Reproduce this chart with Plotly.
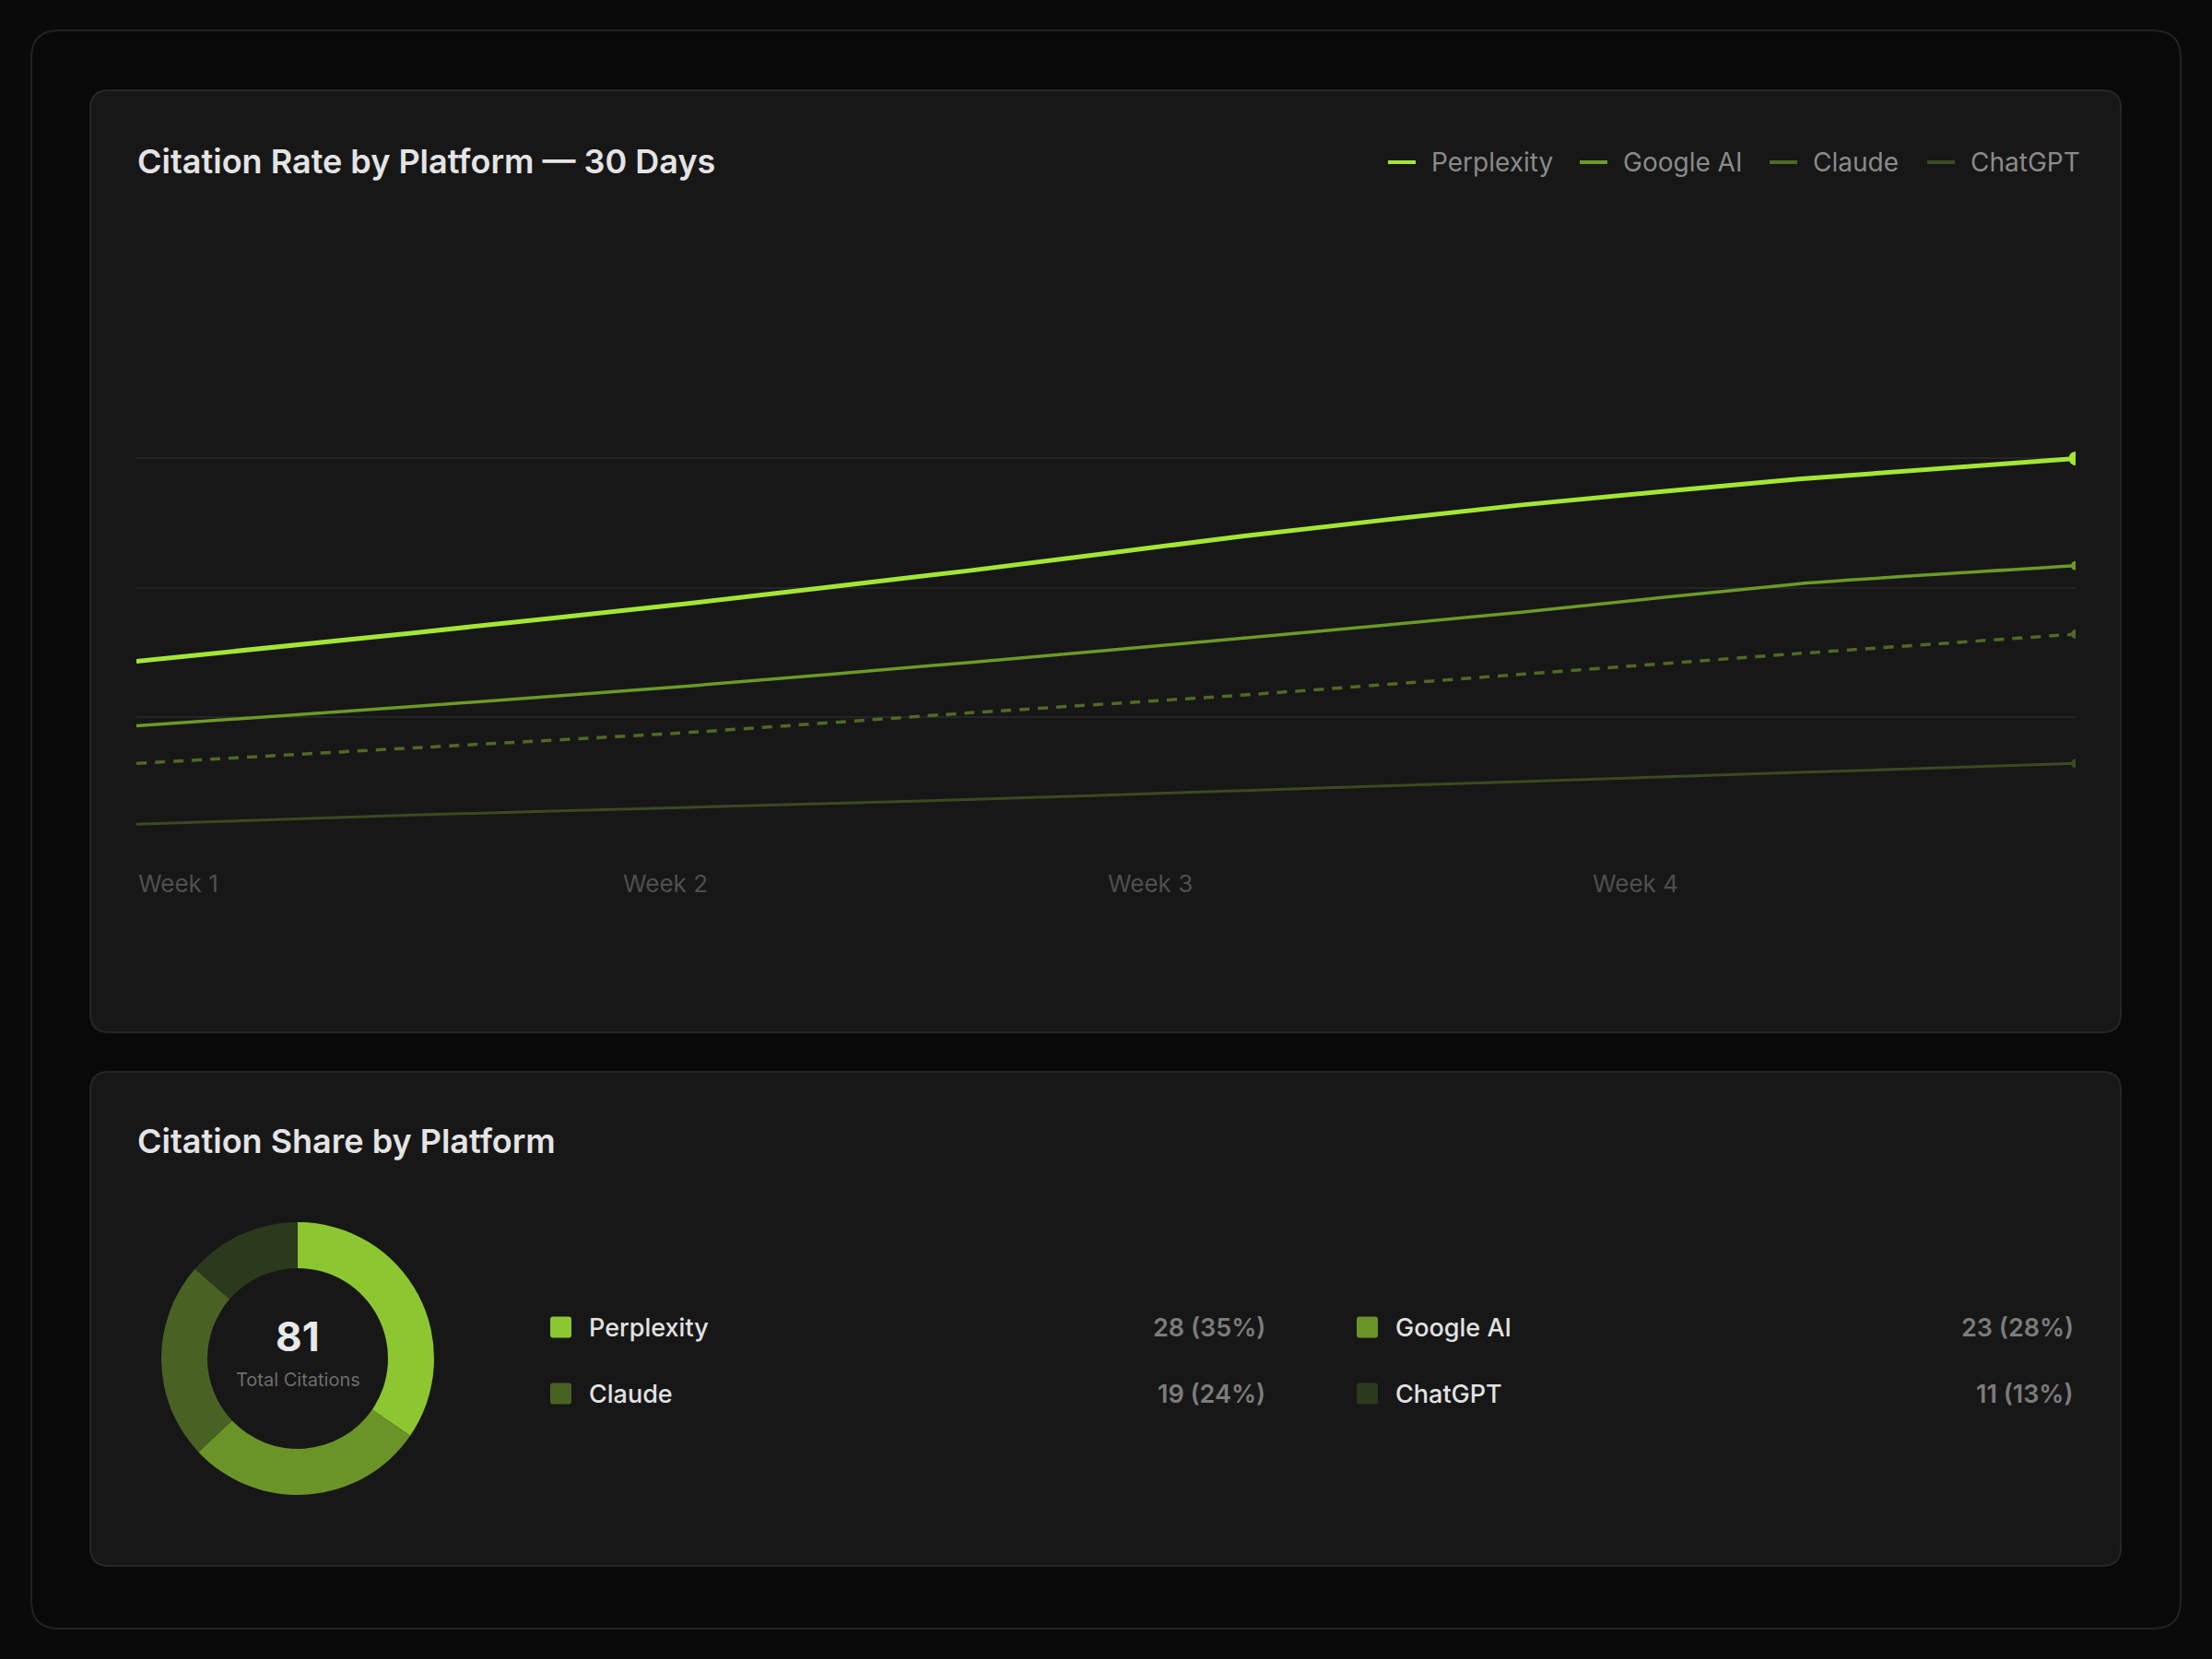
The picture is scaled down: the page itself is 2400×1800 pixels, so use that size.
import plotly.graph_objects as go

W, H = 2400, 1800
FONT = "Inter"

# ── data ─────────────────────────────────────────────────────────────────────
PLATFORMS = ["Perplexity", "Google AI", "Claude", "ChatGPT"]
POINTS = [0, 1, 2, 3, 4, 5, 6, 7]          # 8 samples across the 30 days
PERPLEXITY = [14.3, 16.5, 18.8, 21.3, 24.0, 26.4, 28.4, 30.0]
GOOGLE_AI = [9.3, 10.8, 12.4, 14.2, 16.1, 18.1, 20.3, 21.7]
CLAUDE = [6.4, 7.6, 8.8, 10.3, 11.7, 13.3, 14.9, 16.4]
CHATGPT = [1.7, 2.4, 3.0, 3.6, 4.3, 5.0, 5.7, 6.4]
WEEK_LABELS = ["Week 1", "Week 2", "Week 3", "Week 4"]
CITATIONS = [28, 23, 19, 11]
SHARE_PCT = [35, 28, 24, 13]

# ── styles ───────────────────────────────────────────────────────────────────
LINE_COLORS = ["#a3e635", "#6b9a27", "#4e6a24", "#394b21"]
LINE_WIDTHS = [5, 3.5, 3.5, 3]
LINE_DASH = ["solid", "solid", "11px,9px", "solid"]
MARKER_SIZES = [15, 10, 10, 10]
DONUT_COLORS = ["#8cc631", "#6b9428", "#4a6124", "#2b391d"]
LEGEND_X = [1506, 1714, 1920, 2091]        # left edge of each legend item (px)


def px(x, y):
    """pixel (y down) -> paper coords"""
    return x / W, 1 - y / H


def rounded_rect(x0, y0, x1, y1, r):
    def p(x, y):
        a, b = px(x, y)
        return f"{a:.5f},{b:.5f}"
    return (f"M {p(x0 + r, y0)} L {p(x1 - r, y0)} Q {p(x1, y0)} {p(x1, y0 + r)} "
            f"L {p(x1, y1 - r)} Q {p(x1, y1)} {p(x1 - r, y1)} L {p(x0 + r, y1)} "
            f"Q {p(x0, y1)} {p(x0, y1 - r)} L {p(x0, y0 + r)} Q {p(x0, y0)} {p(x0 + r, y0)} Z")


fig = go.Figure()

# ── line chart ───────────────────────────────────────────────────────────────
series = [PERPLEXITY, GOOGLE_AI, CLAUDE, CHATGPT]
for name, ys, color, width, dash, msize in zip(
        PLATFORMS, series, LINE_COLORS, LINE_WIDTHS, LINE_DASH, MARKER_SIZES):
    fig.add_trace(go.Scatter(
        x=POINTS, y=ys, mode="lines", name=name,
        line=dict(color=color, width=width, dash=dash, shape="spline", smoothing=0.5),
        showlegend=False, hoverinfo="skip",
    ))
    fig.add_trace(go.Scatter(
        x=POINTS[-1:], y=ys[-1:], mode="markers",
        marker=dict(color=color, size=msize),
        showlegend=False, hoverinfo="skip", cliponaxis=True,
    ))

# ── donut ────────────────────────────────────────────────────────────────────
cx, cy, R = 323, 1474, 148
dx0, dy0 = px(cx - R, cy + R)
dx1, dy1 = px(cx + R, cy - R)
fig.add_trace(go.Pie(
    values=CITATIONS, labels=PLATFORMS,
    marker=dict(colors=DONUT_COLORS, line=dict(width=0)),
    hole=0.662, sort=False, direction="clockwise", rotation=0,
    textinfo="none", showlegend=False, hoverinfo="skip",
    domain=dict(x=[dx0, dx1], y=[dy0, dy1]),
))

shapes = [
    dict(type="path", path=rounded_rect(34, 33, 2366, 1767, 30), xref="paper", yref="paper",
         fillcolor="#090909", line=dict(color="#222222", width=2), layer="below"),
    dict(type="path", path=rounded_rect(98, 98, 2301, 1120, 20), xref="paper", yref="paper",
         fillcolor="#171717", line=dict(color="#262626", width=2), layer="below"),
    dict(type="path", path=rounded_rect(98, 1163, 2301, 1699, 20), xref="paper", yref="paper",
         fillcolor="#171717", line=dict(color="#262626", width=2), layer="below"),
]

annotations = []
for text, ypix in [("Citation Rate by Platform — 30 Days", 175),
                   ("Citation Share by Platform", 1238)]:
    ax, ay = px(147, ypix)
    annotations.append(dict(
        text=text, x=ax, y=ay, xref="paper", yref="paper", xanchor="left", yanchor="middle",
        showarrow=False, font=dict(family=FONT, size=36, color="#e4e4e4", weight=600),
    ))

# top legend: short line swatch + label
leg_y = 176
for name, color, lx in zip(PLATFORMS, LINE_COLORS, LEGEND_X):
    x0, y0 = px(lx, leg_y)
    x1, _ = px(lx + 30, leg_y)
    shapes.append(dict(type="line", x0=x0, x1=x1, y0=y0, y1=y0, xref="paper", yref="paper",
                       line=dict(color=color, width=4)))
    tx, ty = px(lx + 45, leg_y)
    annotations.append(dict(
        text=name, x=tx, y=ty, xref="paper", yref="paper", xanchor="left", yanchor="middle",
        showarrow=False, font=dict(family=FONT, size=28, color="#8a8a8a"),
    ))

# week labels, left-aligned in equal columns along the x axis
span = POINTS[-1] - POINTS[0]
for i, lab in enumerate(WEEK_LABELS):
    annotations.append(dict(
        text=lab, x=POINTS[0] + i * span / len(WEEK_LABELS), y=px(0, 958)[1],
        xref="x", yref="paper", xanchor="left", yanchor="middle", showarrow=False,
        font=dict(family=FONT, size=26, color="#4f4f4f"),
    ))

# donut centre
total = sum(CITATIONS)
annotations.append(dict(
    text=f"{total}", x=px(cx, 1450)[0], y=px(cx, 1450)[1], xref="paper", yref="paper",
    showarrow=False, xanchor="center", yanchor="middle",
    font=dict(family=FONT, size=44, color="#e8e8e8", weight=700),
))
annotations.append(dict(
    text="Total Citations", x=px(cx, 1497)[0], y=px(cx, 1497)[1], xref="paper", yref="paper",
    showarrow=False, xanchor="center", yanchor="middle",
    font=dict(family=FONT, size=20, color="#6e6e6e"),
))

# donut legend grid (2 columns)
col_swatch = [597, 1472]
col_value_right = [1375, 2252]
row_y = [1440, 1512]
for i, (name, n, pct, color) in enumerate(zip(PLATFORMS, CITATIONS, SHARE_PCT, DONUT_COLORS)):
    r, c = divmod(i, 2)
    sx, sy = col_swatch[c], row_y[r]
    shapes.append(dict(type="path", path=rounded_rect(sx, sy - 11.5, sx + 23, sy + 11.5, 3),
                       xref="paper", yref="paper", fillcolor=color, line=dict(width=0)))
    lx, ly = px(sx + 40, sy)
    annotations.append(dict(
        text=name, x=lx, y=ly, xref="paper", yref="paper", xanchor="left", yanchor="middle",
        showarrow=False, font=dict(family=FONT, size=27, color="#e2e2e2", weight=500),
    ))
    vx, vy = px(col_value_right[c], sy)
    annotations.append(dict(
        text=f"{n} ({pct}%)", x=vx, y=vy, xref="paper", yref="paper", xanchor="right",
        yanchor="middle", showarrow=False,
        font=dict(family=FONT, size=27, color="#7c7c7c", weight=600),
    ))

x_lo, _ = px(148, 0)
x_hi, _ = px(2252, 0)
_, y_lo = px(0, 918)
_, y_hi = px(0, 918 - 4 * 140.2)

fig.update_layout(
    width=W, height=H, autosize=False,
    margin=dict(l=0, r=0, t=0, b=0),
    paper_bgcolor="#0a0a0a", plot_bgcolor="rgba(0,0,0,0)",
    font=dict(family=FONT),
    showlegend=False,
    xaxis=dict(domain=[x_lo, x_hi], range=[POINTS[0], POINTS[-1]], showgrid=False,
               zeroline=False, showticklabels=False, fixedrange=True),
    yaxis=dict(domain=[y_lo, y_hi], range=[0, 40], tickvals=[0, 10, 20, 30],
               showticklabels=False, gridcolor="#262626", gridwidth=2, zeroline=False,
               fixedrange=True),
    shapes=shapes,
    annotations=annotations,
)

fig.write_html("out.html", config={"displayModeBar": False},
               post_script="document.body.style.margin='0';"
                           "document.body.style.background='#0a0a0a';")
